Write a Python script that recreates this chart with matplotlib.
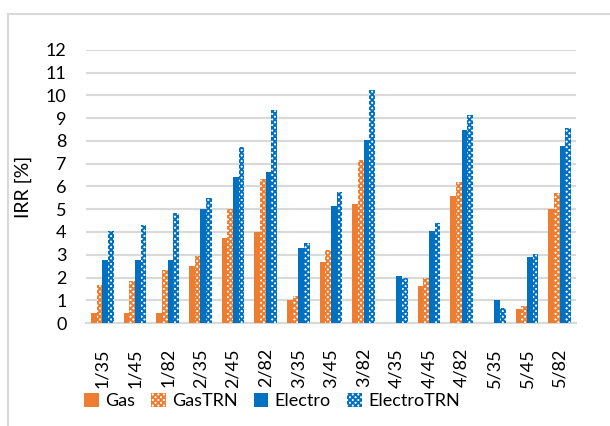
import matplotlib
matplotlib.use("Agg")
import matplotlib.pyplot as plt
from matplotlib.lines import Line2D
from matplotlib.patches import Patch
import numpy as np

categories = ["1/35", "1/45", "1/82", "2/35", "2/45", "2/82", "3/35", "3/45",
              "3/82", "4/35", "4/45", "4/82", "5/35", "5/45", "5/82"]
gas         = [0.45, 0.45, 0.45, 2.5, 3.75, 4.0, 1.0, 2.67, 5.25, 0.0, 1.64, 5.6, 0.0, 0.63, 4.99]
gas_trn     = [1.65, 1.85, 2.35, 2.95, 5.0, 6.35, 1.2, 3.23, 7.18, 0.0, 1.99, 6.2, 0.0, 0.76, 5.73]
electro     = [2.75, 2.75, 2.75, 5.0, 6.4, 6.65, 3.3, 5.16, 8.06, 2.08, 4.06, 8.5, 1.03, 2.92, 7.76]
electro_trn = [4.05, 4.3, 4.85, 5.5, 7.75, 9.35, 3.5, 5.76, 10.26, 1.99, 4.41, 9.16, 0.66, 3.05, 8.59]

ORANGE = "#ED7D31"
BLUE = "#0070C0"

plt.rcParams["font.family"] = ["Lato", "DejaVu Sans"]
plt.rcParams["hatch.linewidth"] = 1.4

fig = plt.figure(figsize=(6.1, 4.26), dpi=100)
ax = fig.add_axes([86 / 610, 1 - 323 / 426, 490 / 610, 273 / 426])

x = np.arange(len(categories))
w = 0.175
series = [
    (gas,         "Gas",        ORANGE, False),
    (gas_trn,     "GasTRN",     ORANGE, True),
    (electro,     "Electro",    BLUE,   False),
    (electro_trn, "ElectroTRN", BLUE,   True),
]
handles = []
for i, (vals, label, color, hatched) in enumerate(series):
    pos = x + (i - 1.5) * w
    if hatched:
        ax.bar(pos, vals, w, facecolor="white", edgecolor=color, hatch="xxxxxx",
               linewidth=0, zorder=3)
        handles.append(Patch(facecolor="white", edgecolor=color, hatch="xxxxxx",
                             linewidth=0, label=label))
    else:
        ax.bar(pos, vals, w, color=color, linewidth=0, zorder=3)
        handles.append(Patch(facecolor=color, linewidth=0, label=label))

ax.set_xlim(-0.5, len(categories) - 0.5)
ax.set_ylim(0, 12)
ax.set_yticks(range(0, 13))
ax.set_xticks(x)
ax.set_xticklabels(categories, rotation=90, fontsize=13)
ax.tick_params(axis="y", labelsize=13, length=0, pad=14)
ax.tick_params(axis="x", length=0, pad=18)
ax.grid(axis="y", color="#d9d9d9", linewidth=1.5, zorder=0)
for s in ["top", "right", "left"]:
    ax.spines[s].set_visible(False)
ax.spines["bottom"].set_color("#d9d9d9")
ax.spines["bottom"].set_linewidth(1.5)
ax.set_ylabel("IRR [%]", fontsize=14, labelpad=4)
ax.yaxis.set_label_coords(-0.11, 0.5)

fig.legend(handles=handles, loc="center", bbox_to_anchor=(272 / 610, 1 - 401 / 426),
           ncol=4, frameon=False, fontsize=13, handlelength=0.8, handleheight=0.8,
           handletextpad=0.35, columnspacing=0.9)

# outer chart frame (top and left edges visible)
fig.add_artist(Line2D([8 / 610, 8 / 610], [0, 1 - 14 / 426], color="#d9d9d9", lw=1.5,
                      transform=fig.transFigure))
fig.add_artist(Line2D([8 / 610, 1], [1 - 14 / 426, 1 - 14 / 426], color="#d9d9d9", lw=1.5,
                      transform=fig.transFigure))

fig.savefig("out.png", dpi=100)
